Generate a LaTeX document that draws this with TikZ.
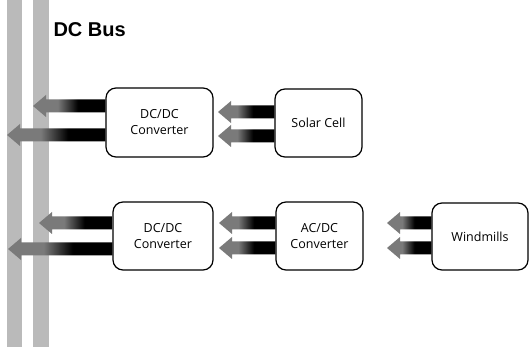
\documentclass[tikz,border=0pt]{standalone}
\usepackage{fontspec}
\setmainfont{Open Sans}
\newfontfamily\busfont{Liberation Sans}
\usetikzlibrary{calc}
\pgfdeclarehorizontalshading{arrowshade}{100bp}{color(0bp)=(black!52); color(42bp)=(black!52); color(56bp)=(black); color(100bp)=(black)}
\tikzset{
  box/.style={draw, line width=1.2pt, rounded corners=10pt, align=center, inner sep=0pt,
    font=\fontsize{12.5}{16}\selectfont},
  busbar/.style={fill=black!27, draw=none},
}
% fat arrow: #1 tip, #2 tail (same y)
\newcommand{\fatarrow}[2]{%
  \shade[shading=arrowshade] let \p1=(#1), \p2=(#2) in
    (\x1,\y1) -- (\x1+13pt,\y1+11pt) -- (\x1+13pt,\y1+6.5pt) -- (\x2,\y1+6.5pt)
    -- (\x2,\y1-6.5pt) -- (\x1+13pt,\y1-6.5pt) -- (\x1+13pt,\y1-11pt) -- cycle;}
\begin{document}
\begin{tikzpicture}[x=1pt,y=-1pt]
\useasboundingbox (0,0) rectangle (530,347);
% bus bars
\path[busbar] (7,0) rectangle (22,347);
\path[busbar] (33,0) rectangle (49,347);
\node[font=\busfont\bfseries\fontsize{20}{23}\selectfont, anchor=west] (bus) at (50,30) {DC Bus};
% boxes
\node[box, minimum width=107pt, minimum height=69pt] (dc1) at (159.5,122.5) {DC/DC\\Converter};
\node[box, minimum width=87pt, minimum height=68pt] (solar) at (318.5,123) {Solar Cell};
\node[box, minimum width=100pt, minimum height=68pt] (dc2) at (163,236) {DC/DC\\Converter};
\node[box, minimum width=87pt, minimum height=68pt] (acdc) at (319.5,236) {AC/DC\\Converter};
\node[box, minimum width=96pt, minimum height=67pt] (wind) at (480,236.5) {Windmills};
% tip coordinates
\coordinate (b1) at (33,106);
\coordinate (b2) at (7,135);
\coordinate (b3) at (39,223);
\coordinate (b4) at (8,249);
\coordinate (s1) at (218,112);
\coordinate (s2) at (218,136);
\coordinate (a1) at (219,223);
\coordinate (a2) at (219,248);
\coordinate (w1) at (387,223);
\coordinate (w2) at (387,248);
% arrows
\fatarrow{b1}{dc1.west |- b1}
\fatarrow{b2}{dc1.west |- b2}
\fatarrow{b3}{dc2.west |- b3}
\fatarrow{b4}{dc2.west |- b4}
\fatarrow{s1}{solar.west |- s1}
\fatarrow{s2}{solar.west |- s2}
\fatarrow{a1}{acdc.west |- a1}
\fatarrow{a2}{acdc.west |- a2}
\fatarrow{w1}{wind.west |- w1}
\fatarrow{w2}{wind.west |- w2}
\end{tikzpicture}
\end{document}
